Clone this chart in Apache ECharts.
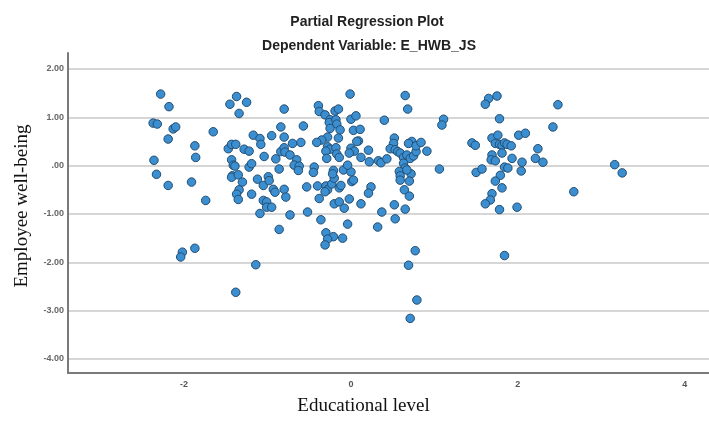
<!DOCTYPE html>
<html>
<head>
<meta charset="utf-8">
<title>Partial Regression Plot</title>
<script src="https://cdn.jsdelivr.net/npm/echarts@6/dist/echarts.min.js"></script>
<style>
  html, body { margin: 0; padding: 0; background: #ffffff; }
  #chart { width: 709px; height: 421px; }
</style>
</head>
<body>
<div id="chart"></div>
<script>
// Residualised predictor (educational level) and outcome (employee well-being)
const educationalLevel = [
  -2.28, -2.18, -2.37, -2.32, -2.13, -2.10, -2.19, -1.65, -1.87, -1.86,
  -2.36, -2.33, -2.19, -1.91, -1.74, -1.37, -1.45, -1.25, -1.34, -0.80,
  -0.84, -1.17, -1.09, -1.08, -0.95, -0.80, -1.47, -1.43, -1.38, -1.28,
  -1.22, -1.04, -0.90, -0.84, -0.80, -0.79, -1.43, -1.41, -1.39, -1.22,
  -1.19, -0.86, -1.42, -1.43, -1.35, -1.30, -1.12, -1.05, -0.99, -0.98,
  -1.34, -1.37, -1.35, -1.19, -0.93, -0.91, -0.80, -0.78, -1.05, -1.01,
  -1.01, -0.95, -1.09, -0.86,
  -2.02, -2.04, -1.87, -1.14, -1.38,
  -0.01, 0.65, 0.68, -0.39, -0.38, -0.31, -0.25, -0.19, -0.15, -0.26,
  -0.18, -0.17, -0.13, -0.25, 0.00, 0.06, -0.57, 0.40, 1.11, 1.09,
  0.03, 0.11, -0.15, -0.28, -0.35, -0.41, -0.60, -0.70, 0.09, 0.07,
  0.00, 0.04, -0.02, 0.12, 0.21, -0.28, -0.25, -0.18, -0.30, -0.17,
  -0.14, -0.29, -0.73, -0.65, -0.68, -0.62, -0.63, -0.44, -0.45, -0.09,
  0.00, -0.04, 0.22, 0.33, 0.36, 0.43, 0.52, 0.51, 0.47, 0.53,
  0.56, 0.59, 0.63, 0.67, 0.71, 0.75, 0.78, 0.73, 0.69, 0.78,
  0.84, 0.91, 0.63, 0.65, 0.58, 0.59, 0.72, 0.67, 0.59, 0.70,
  0.64, 0.70, 1.06, -0.53, -0.40, -0.30, -0.28, -0.31, -0.23, -0.20,
  -0.14, -0.12, -0.21, -0.22, 0.01, 0.03, 0.24, 0.21, -0.38, -0.20,
  -0.14, -0.08, -0.02, 0.12, 0.52, 0.65, 0.37, 0.53, 0.32, -0.04,
  -0.36, -0.52, -0.73,
  -0.30, -0.21, -0.28, -0.31, -0.10, 0.77, 0.69, 0.79, 0.71,
  1.75, 1.65, 1.61, 2.48, 1.78, 2.42, 1.69, 1.76, 2.01, 2.09,
  1.45, 1.49, 1.73, 1.78, 1.81, 1.84, 1.87, 1.92, 2.24, 1.81,
  1.69, 1.68, 1.73, 1.93, 2.21, 2.30, 2.05, 3.16, 3.25, 1.50,
  1.57, 1.84, 1.88, 2.04, 1.79, 1.73, 1.81, 2.67, 1.69, 1.67,
  1.61, 1.78, 1.99,
  1.84
];
const employeeWellBeing = [
  1.48, 1.22, 0.88, 0.86, 0.76, 0.80, 0.55, 0.70, 0.41, 0.17,
  0.11, -0.18, -0.41, -0.34, -0.72, 1.43, 1.27, 1.31, 1.08, 1.17,
  0.80, 0.63, 0.56, 0.44, 0.62, 0.59, 0.35, 0.44, 0.44, 0.34,
  0.30, 0.19, 0.14, 0.29, 0.37, 0.28, 0.12, 0.01, -0.01, -0.03,
  0.04, -0.07, -0.21, -0.24, -0.19, -0.34, -0.28, -0.41, -0.23, -0.31,
  -0.50, -0.59, -0.70, -0.59, -0.49, -0.55, -0.49, -0.65, -0.72, -0.75,
  -0.86, -0.86, -0.99, -1.32,
  -1.79, -1.89, -1.71, -2.05, -2.62,
  1.48, 1.45, 1.17, 1.24, 1.12, 1.05, 0.95, 1.13, 1.17, 0.89,
  0.95, 0.86, 0.74, 0.77, 0.96, 1.03, 0.82, 0.94, 0.96, 0.84,
  0.73, 0.75, 0.57, 0.59, 0.53, 0.48, 0.48, 0.46, 0.51, 0.50,
  0.36, 0.30, 0.26, 0.17, 0.32, 0.39, 0.34, 0.37, 0.30, 0.24,
  0.17, 0.15, 0.22, 0.12, 0.01, -0.01, -0.10, -0.03, -0.14, -0.09,
  -0.13, 0.01, 0.08, 0.10, 0.06, 0.14, 0.57, 0.46, 0.35, 0.33,
  0.29, 0.26, 0.17, 0.22, 0.15, 0.20, 0.29, 0.50, 0.46, 0.41,
  0.48, 0.30, 0.05, -0.05, -0.12, -0.21, -0.17, -0.09, -0.30, -0.32,
  -0.50, -0.63, -0.07, -0.44, -0.42, -0.42, -0.50, -0.54, -0.38, -0.26,
  -0.46, -0.41, -0.10, -0.17, -0.33, -0.30, -0.44, -0.57, -0.68, -0.79,
  -0.75, -0.88, -0.69, -0.79, -0.81, -0.90, -0.96, -1.10, -1.27, -1.21,
  -1.12, -0.96, -1.02,
  -1.39, -1.47, -1.52, -1.64, -1.50, -1.76, -2.06, -2.78, -3.16,
  1.44, 1.39, 1.27, 1.26, 0.97, 0.80, 0.57, 0.63, 0.63, 0.67,
  0.47, 0.42, 0.46, 0.44, 0.42, 0.47, 0.44, 0.41, 0.35, 0.26,
  0.22, 0.12, 0.10, 0.15, 0.15, 0.07, 0.07, 0.02, -0.15, -0.14,
  -0.07, -0.03, -0.05, -0.11, -0.20, -0.32, -0.46, -0.54, -0.58, -0.71,
  -0.79, -0.91, -0.86,
  -1.86
];
const xTickValues = [-2, 0, 2, 4];
const yTickValues = [-4, -3, -2, -1, 0, 1, 2];

const points = educationalLevel.map((x, i) => [x, employeeWellBeing[i]]);

const chart = echarts.init(document.getElementById('chart'), null, { renderer: 'canvas' });

const labelFont = '"Liberation Sans", Arial, sans-serif';
const serifFont = '"Liberation Serif", "Times New Roman", serif';

chart.setOption({
  backgroundColor: '#ffffff',
  animation: false,
  title: [
    {
      text: 'Partial Regression Plot',
      left: 362, top: 10, textAlign: 'center',
      textStyle: { fontFamily: labelFont, fontSize: 14, fontWeight: 'bold', color: '#222' }
    },
    {
      text: 'Dependent Variable: E_HWB_JS',
      left: 364, top: 34, textAlign: 'center',
      textStyle: { fontFamily: labelFont, fontSize: 14, fontWeight: 'bold', color: '#222' }
    }
  ],
  grid: { left: 68, right: 0, top: 53, bottom: 48, containLabel: false },
  xAxis: {
    type: 'value',
    min: -3.39, max: 4.29,
    name: 'Educational level',
    nameLocation: 'middle',
    nameGap: 24,
    nameTextStyle: { fontFamily: serifFont, fontSize: 19, color: '#111', padding: [0, 50, 0, 0] },
    axisLine: { show: true, onZero: false, lineStyle: { color: '#7a7a7a', width: 2 } },
    axisTick: { show: false, customValues: xTickValues },
    axisLabel: {
      customValues: xTickValues, margin: 7,
      fontFamily: labelFont, fontSize: 9, fontWeight: 'bold', color: '#555'
    },
    splitLine: { show: false }
  },
  yAxis: {
    type: 'value',
    min: -4.29, max: 2.33,
    name: 'Employee well-being',
    nameLocation: 'middle',
    nameGap: 36,
    nameTextStyle: { fontFamily: serifFont, fontSize: 19, color: '#111', padding: [0, 0, 0, 14] },
    axisLine: { show: true, onZero: false, lineStyle: { color: '#7a7a7a', width: 2 } },
    axisTick: { show: false, customValues: yTickValues },
    axisLabel: {
      customValues: yTickValues, margin: 4,
      fontFamily: labelFont, fontSize: 9, fontWeight: 'bold', color: '#666',
      formatter: v => (v === 0 ? '.00' : v.toFixed(2))
    },
    splitLine: { show: true, lineStyle: { color: '#d6d6d6', width: 2 } }
  },
  series: [{
    type: 'scatter',
    data: points,
    symbol: 'circle',
    symbolSize: 8.5,
    itemStyle: { color: '#3b8fd0', borderColor: '#234d72', borderWidth: 1, opacity: 1 },
    z: 3
  }]
});
</script>
</body>
</html>
